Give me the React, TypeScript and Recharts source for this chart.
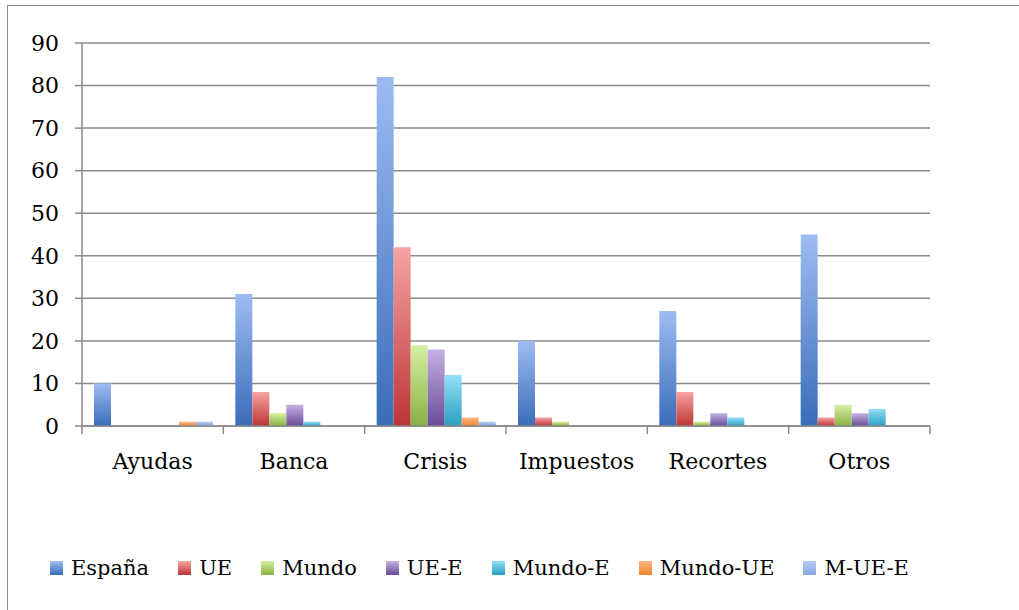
import React from "react";
import { BarChart, Bar, XAxis, YAxis, CartesianGrid } from "recharts";

const categories = ["Ayudas", "Banca", "Crisis", "Impuestos", "Recortes", "Otros"];
const espana = [10, 31, 82, 20, 27, 45];
const ue = [0, 8, 42, 2, 8, 2];
const mundo = [0, 3, 19, 1, 1, 5];
const ueE = [0, 5, 18, 0, 3, 3];
const mundoE = [0, 1, 12, 0, 2, 4];
const mundoUE = [1, 0, 2, 0, 0, 0];
const mUeE = [1, 0, 1, 0, 0, 0];
const yTicks = [0, 10, 20, 30, 40, 50, 60, 70, 80, 90];

const series = [
  { key: "espana", name: "España", values: espana, top: "#9dbcf2", bottom: "#3a6cb8" },
  { key: "ue", name: "UE", values: ue, top: "#f6a3a3", bottom: "#bd3535" },
  { key: "mundo", name: "Mundo", values: mundo, top: "#d6f0a2", bottom: "#8ab043" },
  { key: "ueE", name: "UE-E", values: ueE, top: "#c4b0e4", bottom: "#6a4c98" },
  { key: "mundoE", name: "Mundo-E", values: mundoE, top: "#94e0f8", bottom: "#2b9fc0" },
  { key: "mundoUE", name: "Mundo-UE", values: mundoUE, top: "#fcb785", bottom: "#f0862c" },
  { key: "mUeE", name: "M-UE-E", values: mUeE, top: "#b6ccf6", bottom: "#87a5dd" },
];

const data = categories.map((c, i) => {
  const row: any = { label: c };
  series.forEach((s) => (row[s.key] = s.values[i]));
  return row;
});

const FONT = "'DejaVu Serif', serif";
const GRID = "#8a8a8a";

const CategoryTick = (props: any) => {
  const { x, y, payload, index } = props;
  const half = payload?.offset || 70.67;
  return (
    <g>
      <line x1={x - half} x2={x - half} y1={y} y2={y + 8} stroke={GRID} strokeWidth={1.5} />
      {index === categories.length - 1 && (
        <line x1={x + half} x2={x + half} y1={y} y2={y + 8} stroke={GRID} strokeWidth={1.5} />
      )}
      <text x={x} y={y + 43} textAnchor="middle" fontSize={22} fontFamily={FONT} fill="#000">
        {payload.value}
      </text>
    </g>
  );
};

export default function App() {
  return (
    <div
      style={{
        position: "absolute",
        left: 0,
        top: 0,
        width: 1019,
        height: 610,
        overflow: "hidden",
        background: "#fff",
      }}
    >
      <div
        style={{
          position: "absolute",
          left: 7,
          top: 5,
          width: 1100,
          height: 700,
          border: "1.5px solid #8c8c8c",
        }}
      />
      <div style={{ position: "absolute", left: 0, top: 0 }}>
        <BarChart
          width={1019}
          height={610}
          data={data}
          margin={{ top: 43, right: 89, left: 12, bottom: 124 }}
          barCategoryGap={12}
          barGap={0}
        >
          <defs>
            {series.map((s) => (
              <linearGradient key={s.key} id={`g-${s.key}`} x1="0" y1="0" x2="0" y2="1">
                <stop offset="0%" stopColor={s.top} />
                <stop offset="100%" stopColor={s.bottom} />
              </linearGradient>
            ))}
          </defs>
          <CartesianGrid vertical={false} stroke={GRID} strokeWidth={1.5} />
          <XAxis
            dataKey="label"
            height={60}
            axisLine={{ stroke: GRID, strokeWidth: 1.5 }}
            tickLine={false}
            tickSize={0}
            tickMargin={0}
            interval={0}
            tick={<CategoryTick />}
          />
          <YAxis
            width={70}
            domain={[0, 90]}
            ticks={yTicks}
            interval={0}
            axisLine={{ stroke: GRID, strokeWidth: 1.5 }}
            tickLine={{ stroke: GRID, strokeWidth: 1.5 }}
            tickSize={7}
            tickMargin={16}
            tick={{ fontSize: 22, fontFamily: FONT, fill: "#000" }}
          />
          {series.map((s) => (
            <Bar
              key={s.key}
              dataKey={s.key}
              name={s.name}
              fill={`url(#g-${s.key})`}
              isAnimationActive={false}
            />
          ))}
        </BarChart>
      </div>
      <div
        style={{
          position: "absolute",
          left: 50,
          top: 556,
          display: "flex",
          alignItems: "center",
          fontFamily: FONT,
          fontSize: 21,
          color: "#000",
        }}
      >
        {series.map((s) => (
          <div key={s.key} style={{ display: "flex", alignItems: "center", marginRight: 29 }}>
            <span
              style={{
                display: "inline-block",
                width: 13,
                height: 14,
                marginRight: 8,
                background: `linear-gradient(${s.top}, ${s.bottom})`,
              }}
            />
            <span>{s.name}</span>
          </div>
        ))}
      </div>
    </div>
  );
}
